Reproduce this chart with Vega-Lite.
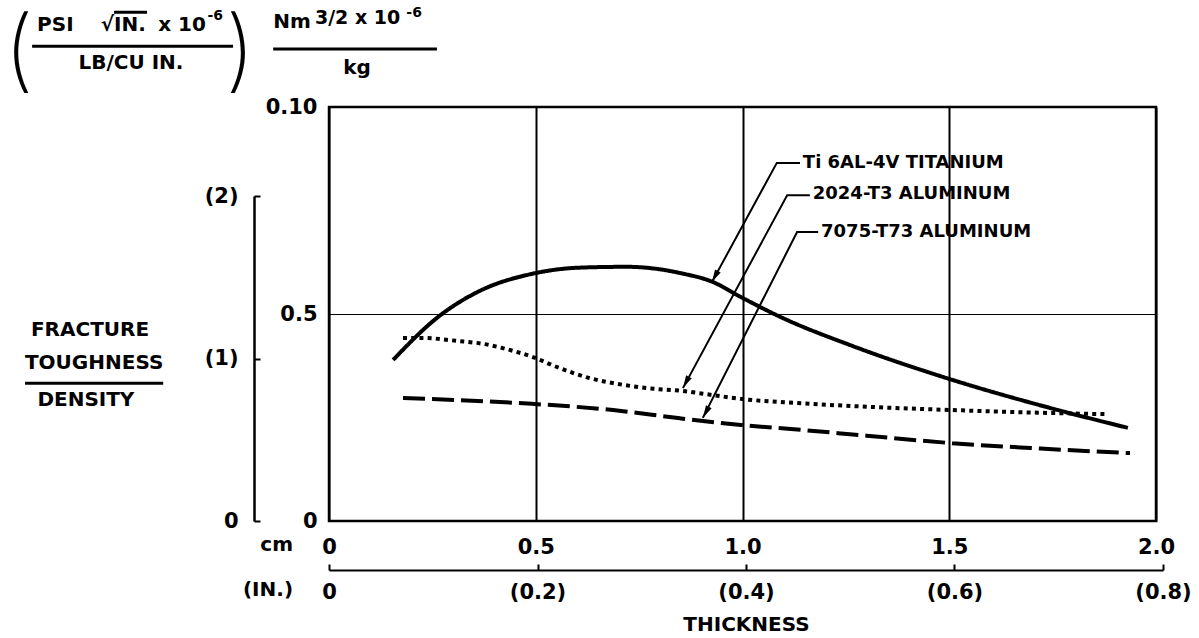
{
  "$schema": "https://vega.github.io/schema/vega-lite/v6.json",
  "width": 827,
  "height": 414,
  "autosize": "none",
  "padding": {"left": 329, "top": 107, "right": 43, "bottom": 117},
  "background": "white",
  "config": {
    "view": {"stroke": "black", "strokeWidth": 2.5},
    "font": "DejaVu Sans",
    "text": {"font": "DejaVu Sans", "fontWeight": "bold", "fontSize": 20, "fill": "black"},
    "axis": {
      "labelFont": "DejaVu Sans", "labelFontWeight": "bold", "labelFontSize": 20, "labelColor": "black",
      "titleFont": "DejaVu Sans", "titleFontWeight": "bold", "titleFontSize": 20, "titleColor": "black",
      "labelFlush": false, "labelOverlap": false, "labelBound": false
    }
  },
  "datasets": {
    "curves": [
      {"series": "Ti 6AL-4V TITANIUM", "x": 0.155, "y": 0.389},
      {"series": "Ti 6AL-4V TITANIUM", "x": 0.264, "y": 0.493},
      {"series": "Ti 6AL-4V TITANIUM", "x": 0.365, "y": 0.556},
      {"series": "Ti 6AL-4V TITANIUM", "x": 0.491, "y": 0.597},
      {"series": "Ti 6AL-4V TITANIUM", "x": 0.607, "y": 0.612},
      {"series": "Ti 6AL-4V TITANIUM", "x": 0.72, "y": 0.614},
      {"series": "Ti 6AL-4V TITANIUM", "x": 0.8, "y": 0.608},
      {"series": "Ti 6AL-4V TITANIUM", "x": 0.849, "y": 0.599},
      {"series": "Ti 6AL-4V TITANIUM", "x": 0.929, "y": 0.577},
      {"series": "Ti 6AL-4V TITANIUM", "x": 0.996, "y": 0.541},
      {"series": "Ti 6AL-4V TITANIUM", "x": 1.098, "y": 0.49},
      {"series": "Ti 6AL-4V TITANIUM", "x": 1.26, "y": 0.425},
      {"series": "Ti 6AL-4V TITANIUM", "x": 1.507, "y": 0.341},
      {"series": "Ti 6AL-4V TITANIUM", "x": 1.744, "y": 0.273},
      {"series": "Ti 6AL-4V TITANIUM", "x": 1.932, "y": 0.225},
      {"series": "2024-T3 ALUMINUM", "x": 0.179, "y": 0.442},
      {"series": "2024-T3 ALUMINUM", "x": 0.227, "y": 0.442},
      {"series": "2024-T3 ALUMINUM", "x": 0.31, "y": 0.435},
      {"series": "2024-T3 ALUMINUM", "x": 0.372, "y": 0.428},
      {"series": "2024-T3 ALUMINUM", "x": 0.43, "y": 0.415},
      {"series": "2024-T3 ALUMINUM", "x": 0.493, "y": 0.396},
      {"series": "2024-T3 ALUMINUM", "x": 0.551, "y": 0.372},
      {"series": "2024-T3 ALUMINUM", "x": 0.631, "y": 0.345},
      {"series": "2024-T3 ALUMINUM", "x": 0.711, "y": 0.329},
      {"series": "2024-T3 ALUMINUM", "x": 0.769, "y": 0.321},
      {"series": "2024-T3 ALUMINUM", "x": 0.856, "y": 0.314},
      {"series": "2024-T3 ALUMINUM", "x": 0.929, "y": 0.304},
      {"series": "2024-T3 ALUMINUM", "x": 0.996, "y": 0.295},
      {"series": "2024-T3 ALUMINUM", "x": 1.132, "y": 0.285},
      {"series": "2024-T3 ALUMINUM", "x": 1.3, "y": 0.276},
      {"series": "2024-T3 ALUMINUM", "x": 1.507, "y": 0.268},
      {"series": "2024-T3 ALUMINUM", "x": 1.7, "y": 0.262},
      {"series": "2024-T3 ALUMINUM", "x": 1.884, "y": 0.258},
      {"series": "7075-T73 ALUMINUM", "x": 0.179, "y": 0.297},
      {"series": "7075-T73 ALUMINUM", "x": 0.491, "y": 0.283},
      {"series": "7075-T73 ALUMINUM", "x": 0.687, "y": 0.268},
      {"series": "7075-T73 ALUMINUM", "x": 0.849, "y": 0.248},
      {"series": "7075-T73 ALUMINUM", "x": 0.996, "y": 0.232},
      {"series": "7075-T73 ALUMINUM", "x": 1.132, "y": 0.221},
      {"series": "7075-T73 ALUMINUM", "x": 1.3, "y": 0.206},
      {"series": "7075-T73 ALUMINUM", "x": 1.507, "y": 0.188},
      {"series": "7075-T73 ALUMINUM", "x": 1.72, "y": 0.175},
      {"series": "7075-T73 ALUMINUM", "x": 1.937, "y": 0.164}
    ],
    "leaders": [
      {"series": "Ti 6AL-4V TITANIUM", "ord": 1, "x": 1.139, "y": 0.865},
      {"series": "Ti 6AL-4V TITANIUM", "ord": 2, "x": 1.083, "y": 0.865},
      {"series": "Ti 6AL-4V TITANIUM", "ord": 3, "x": 0.926, "y": 0.577},
      {"series": "2024-T3 ALUMINUM", "ord": 1, "x": 1.163, "y": 0.787},
      {"series": "2024-T3 ALUMINUM", "ord": 2, "x": 1.108, "y": 0.787},
      {"series": "2024-T3 ALUMINUM", "ord": 3, "x": 0.856, "y": 0.321},
      {"series": "7075-T73 ALUMINUM", "ord": 1, "x": 1.183, "y": 0.698},
      {"series": "7075-T73 ALUMINUM", "ord": 2, "x": 1.132, "y": 0.698},
      {"series": "7075-T73 ALUMINUM", "ord": 3, "x": 0.904, "y": 0.249}
    ],
    "curveLabels": [
      {"text": "Ti 6AL-4V TITANIUM", "x": 1.146, "y": 0.865},
      {"text": "2024-T3 ALUMINUM", "x": 1.17, "y": 0.79},
      {"text": "7075-T73 ALUMINUM", "x": 1.19, "y": 0.698}
    ],
    "centerText": [
      {"text": "FRACTURE", "x": -0.578, "y": 0.461},
      {"text": "TOUGHNESS", "x": -0.568, "y": 0.382},
      {"text": "DENSITY", "x": -0.588, "y": 0.292},
      {"text": "LB/CU IN.", "x": -0.479, "y": 1.106},
      {"text": "kg", "x": 0.068, "y": 1.094}
    ],
    "rightText": [
      {"text": "cm", "x": -0.087, "y": -0.058},
      {"text": "(IN.)", "x": -0.087, "y": -0.167}
    ],
    "leftText": [
      {"text": "PSI", "x": -0.706, "y": 1.198},
      {"text": "√IN.", "x": -0.552, "y": 1.198},
      {"text": "x 10", "x": -0.413, "y": 1.198},
      {"text": "Nm", "x": -0.135, "y": 1.205}
    ],
    "midText": [
      {"text": "3/2 x 10", "x": -0.034, "y": 1.215}
    ],
    "supText": [
      {"text": "-6", "x": -0.294, "y": 1.22},
      {"text": "-6", "x": 0.187, "y": 1.227}
    ],
    "parens": [
      {"text": "(", "x": -0.75, "y": 1.128},
      {"text": ")", "x": -0.215, "y": 1.128}
    ],
    "rules": [
      {"x": -0.718, "x2": -0.232, "y": 1.147},
      {"x": -0.135, "x2": 0.261, "y": 1.14},
      {"x": -0.735, "x2": -0.401, "y": 0.333},
      {"x": -0.52, "x2": -0.44, "y": 1.229}
    ]
  },
  "layer": [
    {
      "encoding": {
        "x": {
          "field": "x", "type": "quantitative",
          "scale": {"domain": [0, 2], "nice": false, "zero": false},
          "axis": {
            "orient": "bottom", "values": [0, 0.5, 1, 1.5, 2],
            "labelExpr": "datum.value == 0 ? '0' : format(datum.value, '.1f')",
            "labelFontSize": 21,
            "domain": false, "ticks": false, "tickSize": 0, "labelPadding": 15,
            "grid": true, "gridColor": "black", "gridWidth": 2, "gridOpacity": 1,
            "title": null
          }
        },
        "y": {
          "field": "y", "type": "quantitative",
          "scale": {"domain": [0, 1], "nice": false, "zero": false},
          "axis": {
            "orient": "left", "values": [0, 0.5, 1],
            "labelExpr": "datum.value == 1 ? '0.10' : (datum.value == 0 ? '0' : '0.5')",
            "labelFontSize": 21,
            "domain": false, "ticks": false, "tickSize": 0, "labelPadding": 12,
            "grid": true, "gridColor": "black", "gridWidth": 1.2, "gridOpacity": 1,
            "title": null
          }
        }
      },
      "layer": [
        {
          "data": {"name": "curves"},
          "mark": {"type": "line", "color": "black", "strokeWidth": 4, "interpolate": "monotone", "strokeCap": "butt"},
          "encoding": {
            "strokeDash": {
              "field": "series", "type": "nominal",
              "scale": {
                "domain": ["Ti 6AL-4V TITANIUM", "2024-T3 ALUMINUM", "7075-T73 ALUMINUM"],
                "range": [[1, 0], [4, 4.2], [22, 7]]
              },
              "legend": null
            },
            "detail": {"field": "series"}
          }
        },
        {
          "data": {"name": "leaders"},
          "mark": {"type": "line", "color": "black", "strokeWidth": 2},
          "encoding": {
            "detail": {"field": "series"},
            "order": {"field": "ord", "type": "quantitative"}
          }
        },
        {
          "data": {"name": "leaders"},
          "transform": [{"filter": "datum.ord == 3"}],
          "mark": {"type": "point", "shape": "M0,0L-0.45,-1.8L0.45,-1.8Z", "filled": true, "color": "black", "opacity": 1, "size": 200, "angle": 28, "strokeWidth": 0}
        },
        {
          "data": {"name": "curveLabels"},
          "mark": {"type": "text", "align": "left", "baseline": "middle", "fontSize": 18},
          "encoding": {"text": {"field": "text"}}
        },
        {
          "data": {"name": "centerText"},
          "mark": {"type": "text", "align": "center", "baseline": "middle"},
          "encoding": {"text": {"field": "text"}}
        },
        {
          "data": {"name": "rightText"},
          "mark": {"type": "text", "align": "right", "baseline": "middle"},
          "encoding": {"text": {"field": "text"}}
        },
        {
          "data": {"name": "leftText"},
          "mark": {"type": "text", "align": "left", "baseline": "middle"},
          "encoding": {"text": {"field": "text"}}
        },
        {
          "data": {"name": "midText"},
          "mark": {"type": "text", "align": "left", "baseline": "middle", "fontSize": 19},
          "encoding": {"text": {"field": "text"}}
        },
        {
          "data": {"name": "supText"},
          "mark": {"type": "text", "align": "left", "baseline": "middle", "fontSize": 14},
          "encoding": {"text": {"field": "text"}}
        },
        {
          "data": {"name": "parens"},
          "mark": {"type": "text", "align": "center", "baseline": "middle", "fontSize": 90, "font": "Inter", "fontWeight": 150},
          "encoding": {"text": {"field": "text"}}
        },
        {
          "data": {"name": "rules"},
          "mark": {"type": "rule", "color": "black", "strokeWidth": 3},
          "encoding": {"x2": {"field": "x2"}}
        }
      ]
    },
    {
      "data": {"values": [{"inch": 0, "sec": 0}, {"inch": 0.8, "sec": 2}]},
      "mark": {"type": "point", "opacity": 0},
      "encoding": {
        "x": {
          "field": "inch", "type": "quantitative",
          "scale": {"domain": [0, 0.8], "range": [0, 834], "nice": false, "zero": false},
          "axis": {
            "orient": "bottom", "offset": 49, "values": [0, 0.2, 0.4, 0.6, 0.8],
            "labelExpr": "datum.value == 0 ? '0' : '(' + format(datum.value, '.1f') + ')'",
            "labelFontSize": 21,
            "domain": true, "domainColor": "black", "domainWidth": 2,
            "ticks": true, "tickColor": "black", "tickWidth": 2, "tickSize": -6,
            "labelPadding": 17, "grid": false,
            "title": "THICKNESS", "titlePadding": 12
          }
        },
        "y": {
          "field": "sec", "type": "quantitative",
          "scale": {"domain": [0, 2], "range": [414, 89], "nice": false, "zero": false},
          "axis": {
            "orient": "left", "offset": 75, "values": [0, 1, 2],
            "labelExpr": "datum.value == 0 ? '0' : '(' + datum.value + ')'",
            "labelFontSize": 21,
            "domain": true, "domainColor": "black", "domainWidth": 2.5,
            "ticks": true, "tickColor": "black", "tickWidth": 2, "tickSize": -6,
            "labelPadding": 22, "grid": false, "title": null
          }
        }
      }
    }
  ],
  "resolve": {"scale": {"x": "independent", "y": "independent"}}
}
